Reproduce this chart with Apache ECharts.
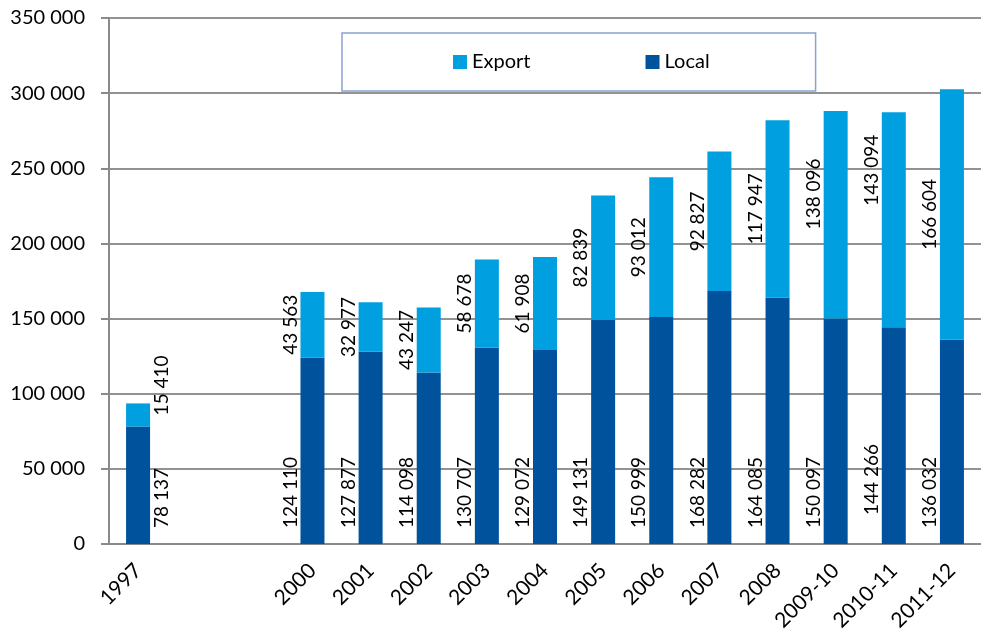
<!DOCTYPE html>
<html>
<head>
<meta charset="utf-8">
<script src="https://cdn.jsdelivr.net/npm/echarts@6/dist/echarts.min.js"></script>
<style>
  html, body { margin: 0; padding: 0; background: #fff; }
  #chart { width: 981px; height: 635px; }
</style>
</head>
<body>
<div id="chart"></div>
<script>
// Years (two blank slots keep the gap between 1997 and 2000)
const categories = ['1997', '', '', '2000', '2001', '2002', '2003', '2004', '2005', '2006', '2007', '2008', '2009-10', '2010-11', '2011-12'];
const localValues = [78137, null, null, 124110, 127877, 114098, 130707, 129072, 149131, 150999, 168282, 164085, 150097, 144266, 136032];
const exportValues = [15410, null, null, 43563, 32977, 43247, 58678, 61908, 82839, 93012, 92827, 117947, 138096, 143094, 166604];
const yTicks = [0, 50000, 100000, 150000, 200000, 250000, 300000, 350000];

const FONT = 'Lato';
const fmt = v => String(v).replace(/\B(?=(\d{3})+(?!\d))/g, ' ');

// Labels sit in the gap left of each column; the first column keeps its labels on the right.
function localData() {
  return localValues.map((v, i) => {
    if (v == null) return '-';
    if (i === 0) return { value: v, label: { position: [36, '100%'] } };
    if (categories[i] === '2010-11') return { value: v, label: { padding: [0, 0, 0, 29] } };
    return v;
  });
}
function exportData() {
  return exportValues.map((v, i) => {
    if (v == null) return '-';
    if (i === 0) return { value: v, label: { position: [36, -18] } };
    if (categories[i] === '2009-10') return { value: v, label: { position: [-10, '40%'] } };
    if (categories[i] === '2010-11') return { value: v, label: { position: [-10, '27%'] } };
    return v;
  });
}

const chart = echarts.init(document.getElementById('chart'), null, { renderer: 'canvas' });
chart.setOption({
  animation: false,
  backgroundColor: '#fff',
  grid: { left: 109, right: -12, top: 18, bottom: 91, containLabel: false },
  legend: {
    data: ['Export', 'Local'],
    left: 342, top: 33,
    padding: [19, 106, 19, 111],
    itemWidth: 14, itemHeight: 14, itemGap: 115,
    icon: 'rect',
    backgroundColor: '#fff',
    borderColor: '#86a3d2', borderWidth: 1.5,
    textStyle: { fontFamily: FONT, fontSize: 20, color: '#000' }
  },
  xAxis: {
    type: 'category',
    data: categories,
    axisLine: { lineStyle: { color: '#8a8a8a', width: 2 } },
    axisTick: { show: false },
    axisLabel: { interval: 0, rotate: 45, margin: 23, fontFamily: FONT, fontSize: 21, color: '#000' }
  },
  yAxis: {
    type: 'value',
    min: yTicks[0], max: yTicks[yTicks.length - 1], interval: yTicks[1] - yTicks[0],
    axisLine: { show: true, lineStyle: { color: '#8a8a8a', width: 2 } },
    axisTick: { show: true, length: 8, lineStyle: { color: '#8a8a8a', width: 2 } },
    splitLine: { lineStyle: { color: '#929292', width: 2 } },
    axisLabel: { margin: 24, fontFamily: FONT, fontSize: 20, color: '#000', formatter: fmt }
  },
  series: [
    {
      name: 'Local', type: 'bar', stack: 'total', barWidth: 24,
      itemStyle: { color: '#00529c' },
      label: {
        show: true, rotate: 90, position: [-10, '100%'],
        align: 'left', verticalAlign: 'middle', padding: [0, 0, 0, 16],
        fontFamily: FONT, fontSize: 19, color: '#000',
        formatter: p => fmt(p.value)
      },
      data: localData()
    },
    {
      name: 'Export', type: 'bar', stack: 'total', barWidth: 24,
      itemStyle: { color: '#009fe0' },
      label: {
        show: true, rotate: 90, position: [-10, '50%'],
        align: 'center', verticalAlign: 'middle',
        fontFamily: FONT, fontSize: 19, color: '#000',
        formatter: p => fmt(p.value)
      },
      data: exportData()
    }
  ]
});
</script>
</body>
</html>
